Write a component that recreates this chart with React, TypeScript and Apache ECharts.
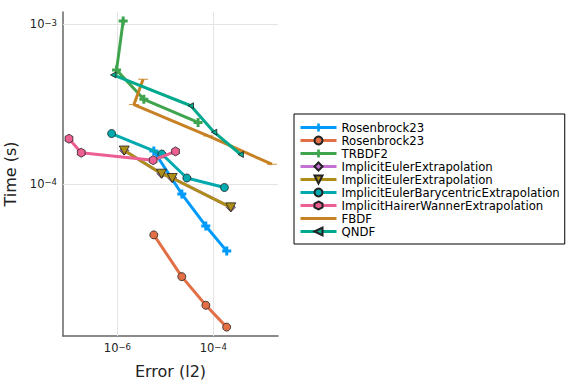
import React, { useEffect, useRef } from 'react';
import * as echarts from 'echarts';

// Legend / series names
const seriesNames = [
  'Rosenbrock23',
  'Rosenbrock23 ',
  'TRBDF2',
  'ImplicitEulerExtrapolation',
  'ImplicitEulerExtrapolation ',
  'ImplicitEulerBarycentricExtrapolation',
  'ImplicitHairerWannerExtrapolation',
  'FBDF',
  'QNDF',
];

// Error (l2) values per series
const rosenbrockAErr = [5.75e-6, 2.21e-5, 6.98e-5, 1.91e-4];
const rosenbrockBErr = [5.75e-6, 2.2e-5, 7.0e-5, 1.9e-4];
const trbdf2Err = [1.32e-6, 9.6e-7, 3.56e-6, 4.82e-5];
const ieExtrapAErr = [1.39e-6, 8.34e-6, 1.39e-5, 2.32e-4];
const ieExtrapBErr = [1.39e-6, 8.34e-6, 1.39e-5, 2.32e-4];
const ieBaryErr = [7.57e-7, 8.45e-6, 2.81e-5, 1.71e-4];
const ihwErr = [9.77e-8, 1.76e-7, 5.57e-6, 1.63e-5];
const fbdfErr = [3.44e-6, 2.21e-6, 7.8e-5, 1.67e-3];
const qndfErr = [8.18e-7, 3.4e-5, 1.04e-4, 3.74e-4];

// Time (s) values per series
const rosenbrockATime = [1.61e-4, 8.65e-5, 5.46e-5, 3.8e-5];
const rosenbrockBTime = [4.8e-5, 2.63e-5, 1.74e-5, 1.27e-5];
const trbdf2Time = [1.05e-3, 5.18e-4, 3.39e-4, 2.43e-4];
const ieExtrapATime = [1.62e-4, 1.16e-4, 1.09e-4, 7.14e-5];
const ieExtrapBTime = [1.62e-4, 1.16e-4, 1.09e-4, 7.14e-5];
const ieBaryTime = [2.07e-4, 1.54e-4, 1.09e-4, 9.51e-5];
const ihwTime = [1.92e-4, 1.57e-4, 1.41e-4, 1.6e-4];
const fbdfTime = [4.53e-4, 3.14e-4, 2.0e-4, 1.33e-4];
const qndfTime = [4.82e-4, 3.09e-4, 2.11e-4, 1.53e-4];

// Axis ranges and grid lines
const xRange = [7.33e-8, 2.24e-3];
const yRange = [1.117e-5, 1.194e-3];
const xGridValues = [1e-6, 1e-4];
const yGridValues = [1e-4, 1e-3];

const errs = [rosenbrockAErr, rosenbrockBErr, trbdf2Err, ieExtrapAErr, ieExtrapBErr, ieBaryErr, ihwErr, fbdfErr, qndfErr];
const times = [rosenbrockATime, rosenbrockBTime, trbdf2Time, ieExtrapATime, ieExtrapBTime, ieBaryTime, ihwTime, fbdfTime, qndfTime];

const colors = ['#009AFA', '#E36F47', '#3EA44E', '#C371D2', '#AC8E18', '#00AAAE', '#ED5E93', '#C68225', '#00A98D'];

const PLUS = 'path://M3,0h3v3h3v3h-3v3h-3v-3h-3v-3h3z';
const HEX = 'path://M5,0L9.33,2.5L9.33,7.5L5,10L0.67,7.5L0.67,2.5Z';
const TRI_DOWN = 'path://M0,0L10,0L5,9Z';
const TRI_LEFT = 'path://M0,5L9,0L9,10Z';
const HLINE = 'path://M0,0H10V3H0Z';
const LEGEND_BAR = 'path://M0,0H36V3H0Z';

const symbols = [PLUS, 'circle', PLUS, 'diamond', TRI_DOWN, 'circle', HEX, HLINE, TRI_LEFT];
const symbolSizes = [9, 8, 9, 9, 10, 8, 9, [10, 3], 6];
const bordered = [false, true, false, true, true, true, true, false, true];

const FONT = 'DejaVu Sans';

const supRich = {
  b: { fontSize: 11.5, fontFamily: FONT, color: '#222', lineHeight: 12, verticalAlign: 'bottom' },
  s: { fontSize: 8.5, fontFamily: FONT, color: '#222', lineHeight: 9, padding: [0, 0, 7, 0], verticalAlign: 'top' },
};

function expLabel(v: number, step: number): string {
  const e = Math.log10(v);
  const r = Math.round(e);
  if (Math.abs(e - r) > 1e-6 || r % step !== 0) return '';
  return `{b|10}{s|${r < 0 ? '\u2212' : ''}${Math.abs(r)}}`;
}

export default function App() {
  const ref = useRef<HTMLDivElement>(null);
  useEffect(() => {
    if (!ref.current) return;
    const chart = echarts.init(ref.current, undefined, { renderer: 'svg' });
    const series: any[] = seriesNames.map((name, i) => ({
      type: 'line',
      name,
      data: errs[i].map((x, j) => [x, times[i][j]]),
      symbol: symbols[i],
      symbolSize: symbolSizes[i],
      symbolKeepAspect: true,
      showSymbol: true,
      lineStyle: { color: colors[i], width: 3 },
      itemStyle: {
        color: colors[i],
        borderColor: bordered[i] ? '#222' : colors[i],
        borderWidth: bordered[i] ? 0.8 : 0,
      },
      z: 3 + i,
    }));
    series[0].markLine = {
      silent: true,
      symbol: ['none', 'none'],
      z: 1,
      animation: false,
      label: { show: false },
      emphasis: { disabled: true },
      lineStyle: { color: '#e4e4e4', width: 1, type: 'solid', opacity: 1 },
      data: [
        ...xGridValues.map((v) => [{ coord: [v, yRange[0]] }, { coord: [v, yRange[1]] }]),
        ...yGridValues.map((v) => [{ coord: [xRange[0], v] }, { coord: [xRange[1], v] }]),
      ],
    };
    chart.setOption({
      animation: false,
      backgroundColor: '#fff',
      textStyle: { fontFamily: FONT },
      grid: { left: 63, top: 12, right: 298, bottom: 48 },
      xAxis: {
        type: 'log',
        logBase: 10,
        min: xRange[0],
        max: xRange[1],
        name: 'Error (l2)',
        nameLocation: 'middle',
        nameGap: 27,
        nameTextStyle: { fontSize: 16, fontFamily: FONT, color: '#222' },
        axisLine: { show: true, lineStyle: { color: '#666', width: 1.5 } },
        axisTick: { show: false },
        splitLine: { show: false },
        axisLabel: {
          margin: 6,
          formatter: (v: number) => expLabel(v, 2),
          rich: supRich,
          showMinLabel: true,
          showMaxLabel: true,
        },
      },
      yAxis: {
        type: 'log',
        logBase: 10,
        min: yRange[0],
        max: yRange[1],
        name: 'Time (s)',
        nameLocation: 'middle',
        nameGap: 45,
        nameTextStyle: { fontSize: 16, fontFamily: FONT, color: '#222' },
        axisLine: { show: true, lineStyle: { color: '#666', width: 1.5 } },
        axisTick: { show: false },
        splitLine: { show: false },
        axisLabel: {
          margin: 6,
          formatter: (v: number) => expLabel(v, 1),
          rich: supRich,
        },
      },
      legend: {
        orient: 'vertical',
        left: 294,
        top: 114,
        padding: [7, 5, 6, 5],
        itemGap: 0,
        itemWidth: 36,
        itemHeight: 10,
        borderColor: '#000',
        borderWidth: 1,
        backgroundColor: '#fff',
        selectedMode: false,
        lineStyle: { width: 3 },
        textStyle: { fontSize: 11.7, fontFamily: FONT, color: '#000', lineHeight: 13 },
        formatter: (n: string) => n.trim(),
        data: seriesNames.map((n, i) => (i === 7 ? { name: n, icon: LEGEND_BAR } : n)),
      },
      series,
    });
    return () => chart.dispose();
  }, []);
  return <div ref={ref} style={{ width: 576, height: 384, position: 'absolute', left: 0, top: 0 }} />;
}
